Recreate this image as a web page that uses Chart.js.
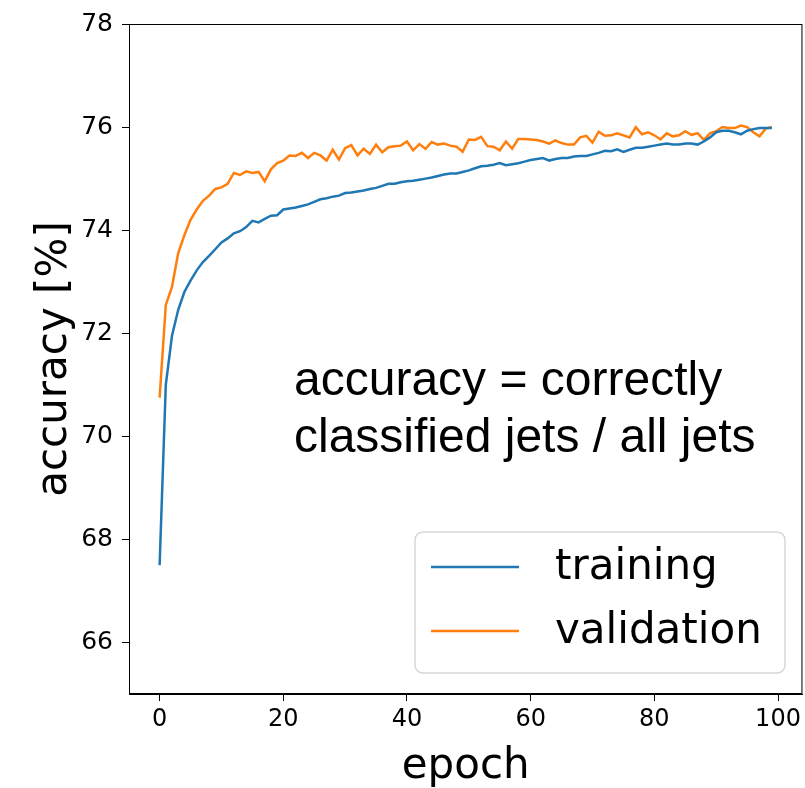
<!DOCTYPE html>
<html>
<head>
<meta charset="utf-8">
<script src="https://cdn.jsdelivr.net/npm/chart.js@4.4.0/dist/chart.umd.min.js"></script>
<style>
  body { margin: 0; background: #fff; }
  #wrap { width: 805px; height: 788px; }
</style>
</head>
<body>
<div id="wrap"><canvas id="accChart" width="805" height="788"></canvas></div>
<script>
// data
const epochs = Array.from({ length: 100 }, (_, i) => i);
const training = [
  67.5, 71.0, 71.95, 72.45, 72.8, 73.02, 73.22, 73.38, 73.5, 73.63,
  73.76, 73.84, 73.94, 73.98, 74.06, 74.18, 74.15, 74.22, 74.28, 74.29,
  74.4, 74.42, 74.44, 74.47, 74.5, 74.55, 74.6, 74.62, 74.65, 74.67,
  74.72, 74.73, 74.75, 74.77, 74.8, 74.82, 74.86, 74.9, 74.9, 74.93,
  74.95, 74.96, 74.98, 75.0, 75.02, 75.05, 75.08, 75.1, 75.1, 75.13,
  75.16, 75.2, 75.24, 75.25, 75.27, 75.3, 75.26, 75.28, 75.3, 75.33,
  75.36, 75.38, 75.4, 75.35, 75.38, 75.4, 75.4, 75.43, 75.44, 75.44,
  75.47, 75.5, 75.54, 75.53, 75.57, 75.52, 75.56, 75.6, 75.6, 75.62,
  75.64, 75.66, 75.68, 75.66, 75.66, 75.68, 75.68, 75.66, 75.72, 75.8,
  75.9, 75.93, 75.93, 75.9, 75.86, 75.93, 75.96, 75.98, 75.98, 75.98
];
const validation = [
  70.75, 72.55, 72.9, 73.55, 73.9, 74.2, 74.4, 74.57, 74.67, 74.8,
  74.83, 74.9, 75.11, 75.07, 75.14, 75.11, 75.13, 74.95, 75.18, 75.3,
  75.35, 75.45, 75.44, 75.5, 75.4, 75.5, 75.45, 75.35, 75.56, 75.37,
  75.59, 75.65, 75.45, 75.58, 75.48, 75.66, 75.51, 75.61, 75.63, 75.64,
  75.72, 75.55, 75.67, 75.58, 75.71, 75.66, 75.68, 75.64, 75.62, 75.52,
  75.76, 75.75, 75.81, 75.63, 75.62, 75.55, 75.72, 75.58, 75.77, 75.77,
  75.76, 75.75, 75.72, 75.68, 75.74, 75.69, 75.66, 75.66, 75.8, 75.83,
  75.7, 75.91, 75.83, 75.84, 75.88, 75.84, 75.8, 76.0, 75.86, 75.9,
  75.84, 75.76, 75.88, 75.82, 75.84, 75.92, 75.85, 75.88, 75.75, 75.88,
  75.92, 76.0, 75.98, 75.98, 76.03, 76.0, 75.9, 75.82, 75.97, 76.0
];
const xTicks = [0, 20, 40, 60, 80, 100];
const yTicks = [66, 68, 70, 72, 74, 76, 78];
const noteLines = ['accuracy = correctly', 'classified jets / all jets'];

Chart.defaults.font.family = "'DejaVu Sans', sans-serif";
Chart.defaults.color = '#000';

const toPoints = arr => arr.map((v, i) => ({ x: epochs[i], y: v }));

// box around the plot + text note + legend in the lower right
const extras = {
  id: 'extras',
  afterDraw(chart) {
    const c = chart.ctx, a = chart.chartArea;
    c.save();
    c.strokeStyle = '#000';
    c.lineWidth = 1;
    c.strokeRect(a.left + 0.5, a.top + 0.5, a.right - a.left - 1, a.bottom - a.top - 1);

    c.font = "48px 'Liberation Sans', Arial, sans-serif";
    c.fillStyle = '#000';
    c.textBaseline = 'middle';
    c.textAlign = 'left';
    noteLines.forEach((t, i) => c.fillText(t, 294, 382 + i * 57));

    // legend
    const bx = 415, by = 532, bw = 370, bh = 141, r = 8;
    c.beginPath();
    c.roundRect(bx, by, bw, bh, r);
    c.fillStyle = 'rgba(255,255,255,0.8)';
    c.fill();
    c.strokeStyle = '#d6d6d6';
    c.lineWidth = 1.5;
    c.stroke();
    c.font = "42px 'DejaVu Sans', sans-serif";
    chart.data.datasets.forEach((ds, i) => {
      const y = 567 + i * 64;
      c.strokeStyle = ds.borderColor;
      c.lineWidth = 2.5;
      c.beginPath();
      c.moveTo(431, y);
      c.lineTo(519, y);
      c.stroke();
      c.fillStyle = '#000';
      c.fillText(ds.label, 555, y + 1);
    });
    c.restore();
  }
};

new Chart(document.getElementById('accChart'), {
  type: 'line',
  data: {
    datasets: [
      { label: 'training', data: toPoints(training), borderColor: '#1f77b4', borderWidth: 2.5, pointRadius: 0, tension: 0 },
      { label: 'validation', data: toPoints(validation), borderColor: '#ff7f0e', borderWidth: 2.5, pointRadius: 0, tension: 0 }
    ]
  },
  options: {
    responsive: false,
    animation: false,
    layout: { padding: { top: 22, right: 2, left: 0, bottom: 0 } },
    plugins: { legend: { display: false }, tooltip: { enabled: false } },
    scales: {
      x: {
        type: 'linear',
        min: -4.95,
        max: 103.95,
        afterBuildTicks: s => { s.ticks = xTicks.map(v => ({ value: v })); },
        afterFit: s => { s.height = 94; },
        grid: { drawOnChartArea: false, drawTicks: true, tickLength: 7, color: '#000', tickWidth: 1 },
        border: { display: true, color: '#000', width: 1 },
        ticks: { font: { size: 24 }, padding: 4, maxRotation: 0 },
        title: { display: true, text: 'epoch', font: { size: 42, lineHeight: 1.0 }, padding: { top: 0, bottom: 0 } }
      },
      y: {
        min: 65,
        max: 78,
        afterBuildTicks: s => { s.ticks = yTicks.map(v => ({ value: v })); },
        afterFit: s => { s.width = 129; },
        grid: { drawOnChartArea: false, drawTicks: true, tickLength: 7, color: '#000', tickWidth: 1 },
        border: { display: true, color: '#000', width: 1 },
        ticks: { font: { size: 25 }, padding: 9 },
        title: { display: true, text: 'accuracy [%]', font: { size: 42, lineHeight: 1.0 }, padding: { top: 34, bottom: 0 } }
      }
    }
  },
  plugins: [extras]
});
</script>
</body>
</html>
